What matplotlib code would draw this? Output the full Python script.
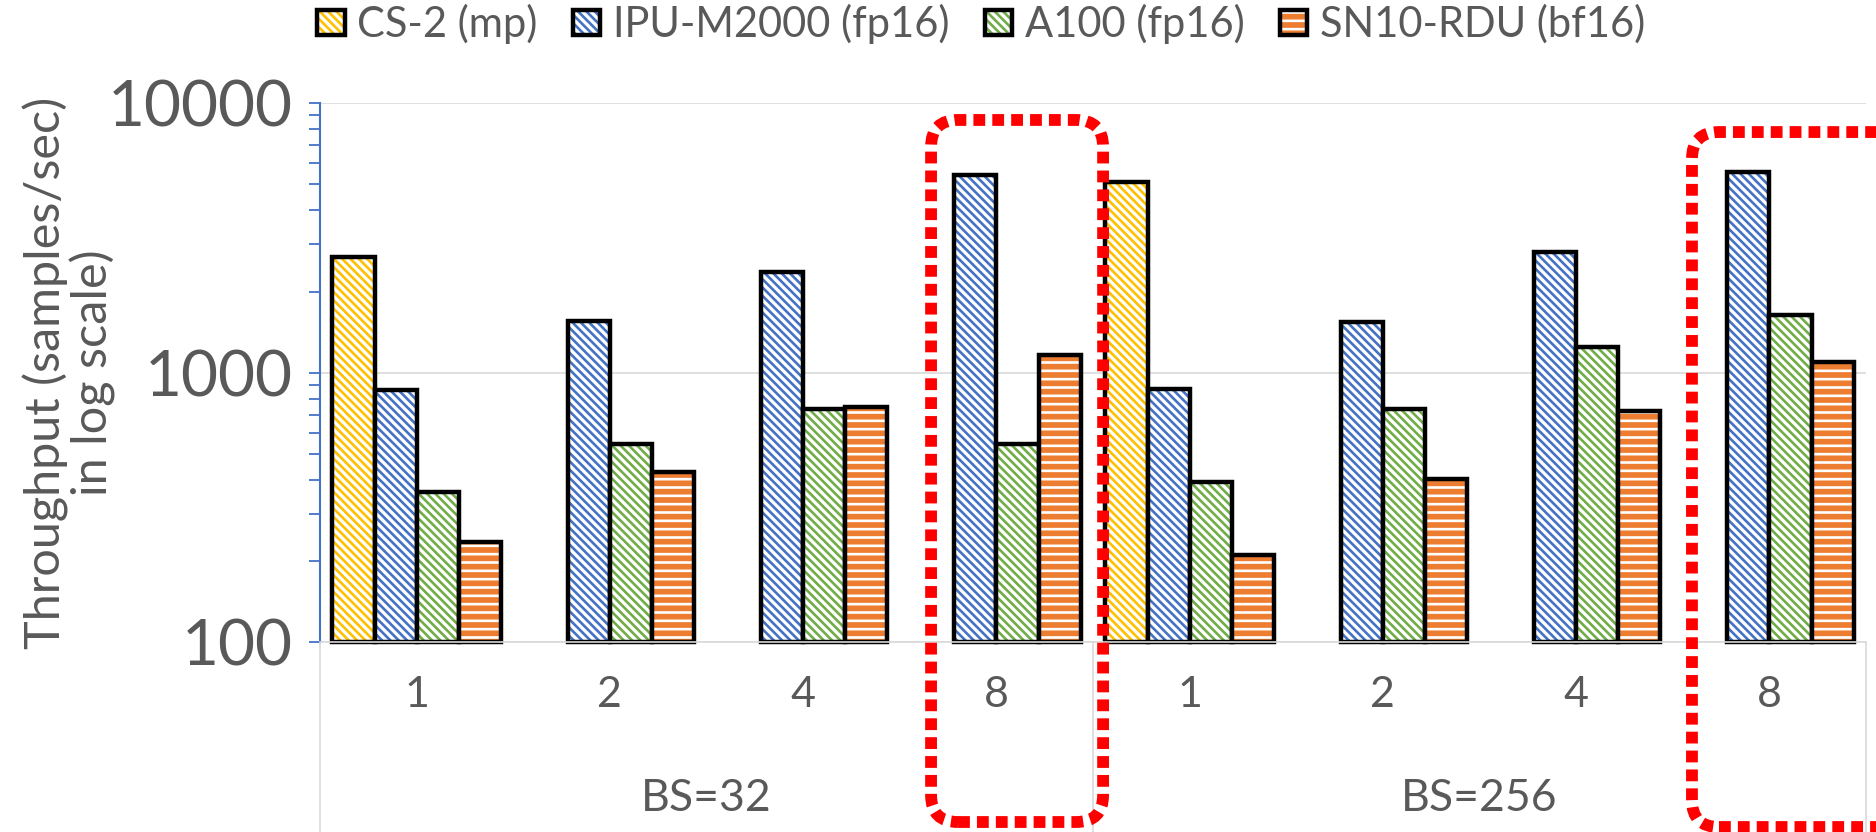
import numpy as np
import matplotlib.pyplot as plt
import matplotlib.transforms as mtransforms
from matplotlib.patches import FancyBboxPatch
from matplotlib.ticker import NullFormatter

plt.rcParams['font.family'] = ['Lato', 'DejaVu Sans']
plt.rcParams['hatch.linewidth'] = 1.9

# data (samples/sec, log axis)
batch = ['1', '2', '4', '8', '1', '2', '4', '8']
groups = ['BS=32', 'BS=256']
series = ['CS-2 (mp)', 'IPU-M2000 (fp16)', 'A100 (fp16)', 'SN10-RDU (bf16)']
cs2 = [2680, None, None, None, 5100, None, None, None]
ipu = [860, 1560, 2370, 5430, 873, 1545, 2795, 5545]
a100 = [362, 545, 733, 545, 393, 733, 1247, 1643]
sn10 = [236, 427, 748, 1160, 211, 405, 720, 1092]

colors = ['#FFC000', '#4472C4', '#70AD47', '#ED7D31']
fills = ['white', 'white', 'white', '#ED7D31']
stripes = ['#FFC000', '#4472C4', '#70AD47', 'white']
hatches = ['\\\\\\\\', '\\\\\\\\', '\\\\\\\\', '--']
grey = '#595959'
ymin, ymax = 100, 10000

fig = plt.figure(figsize=(18.76, 8.32), dpi=100)
ax = fig.add_axes([0.1706, 0.2278, 0.8241, 0.6484])
ax.set_yscale('log')

x = np.arange(len(batch))
width = 0.218
handles = []
for k, vals in enumerate([cs2, ipu, a100, sn10]):
    idx = [i for i, v in enumerate(vals) if v is not None]
    h = np.array([vals[i] for i in idx], dtype=float)
    pos = x[idx] + (k - 1.5) * width
    fill = ax.bar(pos, h - ymin, bottom=ymin, width=width, color=fills[k],
                  edgecolor=stripes[k], hatch=hatches[k], linewidth=0)
    edge = ax.bar(pos, h - ymin, bottom=ymin, width=width, fill=False,
                  edgecolor='black', linewidth=3.2, clip_on=False)
    handles.append((fill[0], edge[0]))

ax.set_xlim(-0.5, len(batch) - 0.5)
ax.set_ylim(ymin, ymax)
ax.set_yticks([100, 1000, 10000], ['100', '1000', '10000'])
ax.yaxis.set_minor_formatter(NullFormatter())
ax.tick_params(axis='y', which='both', direction='out', length=8, width=1.3,
               color='#4472C4', labelsize=46, labelcolor=grey, pad=12)
ax.set_xticks(x, batch)
ax.tick_params(axis='x', length=0, labelsize=31, labelcolor=grey, pad=24)
ax.grid(axis='y', which='major', color='#D9D9D9', linewidth=1.2)
ax.set_axisbelow(True)

for s in ['top', 'right']:
    ax.spines[s].set_visible(False)
ax.spines['left'].set_color('#4472C4')
ax.spines['left'].set_linewidth(1.5)
ax.spines['bottom'].set_color('#D9D9D9')
ax.spines['bottom'].set_linewidth(1.2)

# second level of the category axis
trans = mtransforms.blended_transform_factory(ax.transData, ax.transAxes)
n_per = len(batch) // len(groups)
for g, name in enumerate(groups):
    ax.text(g * n_per + (n_per - 1) / 2, -0.29, name, transform=trans,
            ha='center', va='center', fontsize=32, color=grey)
for sep in np.arange(len(groups) + 1) * n_per - 0.5:
    ax.axvline(sep, ymin=-0.352, ymax=0, color='#D9D9D9', lw=1.2, clip_on=False)

fig.text(0.037, 0.552, 'Throughput (samples/sec)\nin log scale)', rotation=90,
         ha='center', va='center', fontsize=35, color=grey, linespacing=1.0)

fig.legend(handles, series, loc='center', bbox_to_anchor=(0.523, 0.971), ncol=4,
           frameon=False, fontsize=30, handlelength=0.66, handleheight=0.58,
           handletextpad=0.3, columnspacing=0.85, labelcolor=grey)

# red dotted highlight boxes
for x0, y0, x1, y1 in [(0.4963, 0.012, 0.5880, 0.8558), (0.9019, 0.006, 1.02, 0.8413)]:
    box = FancyBboxPatch((x0, y0), x1 - x0, y1 - y0,
                         boxstyle='round,pad=0,rounding_size=0.0144',
                         mutation_aspect=1876 / 832, transform=fig.transFigure,
                         fill=False, edgecolor='#FF0000', linewidth=8.5,
                         linestyle=(0, (1.0, 0.6)), clip_on=False)
    fig.add_artist(box)

fig.savefig('out.png', dpi=100)
